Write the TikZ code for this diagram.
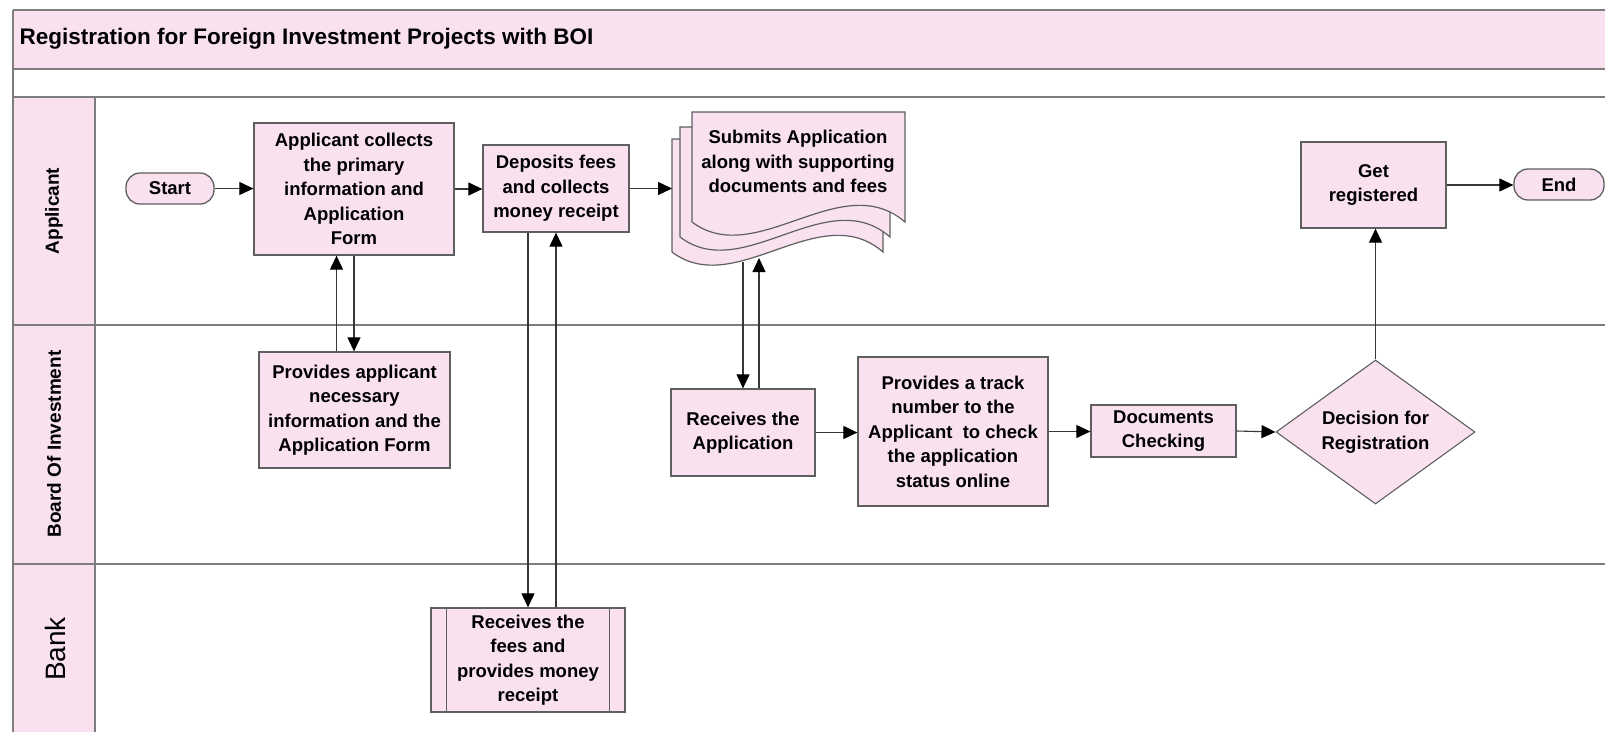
\documentclass[tikz,border=0pt]{standalone}
\usepackage{fontspec}
\setmainfont{Liberation Sans}
\usetikzlibrary{shapes.geometric,arrows.meta,calc}
\definecolor{pinkfill}{RGB}{249,225,240}
\definecolor{framegray}{RGB}{125,125,125}
\definecolor{boxgray}{RGB}{95,95,95}
\definecolor{arrowgray}{RGB}{55,55,55}
\newcommand\bxfont{\fontsize{18.5}{24.5}\selectfont\bfseries}
\begin{document}
\begin{tikzpicture}[x=1pt,y=-1pt,
  frameline/.style={draw=framegray,line width=1.8pt},
  box/.style={draw=boxgray,line width=1.3pt,fill=pinkfill,rectangle,align=center,inner sep=1pt,font=\bxfont,text=black},
  term/.style={box,rounded corners=14pt},
  decision/.style={draw=boxgray,line width=1.1pt,fill=pinkfill,diamond,shape aspect=1.38,align=center,inner sep=0pt,font=\bxfont},
  docshape/.style={draw=boxgray,line width=1.2pt,fill=pinkfill},
  lanelabel/.style={rotate=90,font=\fontsize{19}{22}\selectfont\bfseries},
  arr/.style={draw=arrowgray,line width=1.1pt,-{Triangle[length=14pt,width=13pt,color=black]}}]
\useasboundingbox (0,0) rectangle (1605,731);
\clip (0,0) rectangle (1605,731);
% backgrounds
\fill[pinkfill] (13,10) rectangle (1615,69);
\fill[pinkfill] (13,97) rectangle (95,740);
% frame and lane lines
\draw[frameline] (13,10) -- (1615,10);
\draw[frameline] (13,69) -- (1615,69);
\draw[frameline] (13,97) -- (1615,97);
\draw[frameline] (13,325) -- (1615,325);
\draw[frameline] (13,564) -- (1615,564);
\draw[frameline] (13,10) -- (13,740);
\draw[frameline] (95,97) -- (95,740);
% title and lane labels
\node[anchor=west,font=\fontsize{22.5}{26}\selectfont\bfseries] (title) at (16,39) {Registration for Foreign Investment Projects with BOI};
\node[lanelabel] (laneA) at (54,211) {Applicant};
\node[lanelabel] (laneB) at (54,444) {Board Of Investment};
\node[rotate=90,font=\fontsize{28}{30}\selectfont] (laneC) at (55,649) {Bank};
% document stack
\foreach \x/\y/\w/\b in {672/139/211/252, 680/127/210/237, 692/112/213/222}{
  \path[docshape] (\x,\y) -- (\x+\w,\y) -- (\x+\w,\b)
     .. controls (\x+0.7*\w,\b-55) and (\x+0.3*\w,\b+48) .. (\x,\b) -- cycle;
}
\node[font=\bxfont,align=center,inner sep=1pt] (S) at (798,161.5) {Submits Application\\along with supporting\\documents and fees};
\coordinate (docL) at (672,189);
\coordinate (docB1) at (743,262);
\coordinate (docB2) at (759,258);
% nodes
\node[term,minimum width=88pt,minimum height=31pt] (start) at (170,188.5) {Start};
\node[box,minimum width=200pt,minimum height=132pt] (A) at (354,189) {Applicant collects\\the primary\\information and\\Application\\Form};
\node[box,minimum width=146pt,minimum height=87pt] (D) at (556,188.5) {Deposits fees\\and collects\\money receipt};
\node[box,minimum width=145pt,minimum height=86pt] (G) at (1373.5,185) {Get\\registered};
\node[term,minimum width=90pt,minimum height=31pt] (E) at (1559,184.5) {End};
\node[box,minimum width=191pt,minimum height=116pt] (P) at (354.5,410) {Provides applicant\\necessary\\information and the\\Application Form};
\node[box,minimum width=144pt,minimum height=87pt] (R) at (743,432.5) {Receives the\\Application};
\node[box,minimum width=190pt,minimum height=149pt] (T) at (953,431.5) {Provides a track\\number to the\\Applicant\ \ to check\\the application\\status online};
\node[box,minimum width=145pt,minimum height=52pt] (C) at (1163.5,431) {Documents\\Checking};
\node[decision,minimum width=199pt,minimum height=144pt] (Dec) at (1375.5,432) {Decision for\\Registration};
\node[box,minimum width=194pt,minimum height=104pt] (B) at (528,660) {Receives the\\fees and\\provides money\\receipt};
\draw[draw=boxgray,line width=1.2pt] ([xshift=16pt]B.north west) -- ([xshift=16pt]B.south west);
\draw[draw=boxgray,line width=1.2pt] ([xshift=-16pt]B.north east) -- ([xshift=-16pt]B.south east);
% connectors
\draw[arr] (start.east) -- (start.east -| A.west);
\draw[arr] (A.east) -- (A.east -| D.west);
\draw[arr] (D.east) -- (D.east -| docL);
\draw[arr] (A.south) -- (A.south |- P.north);
\draw[arr] ([xshift=-18pt]P.north) -- ([xshift=-18pt]P.north |- A.south);
\draw[arr] (D.south -| B.north) -- (B.north);
\draw[arr] (B.north -| D.south) -- (D.south);
\draw[arr] (docB1) -- (docB1 |- R.north);
\draw[arr] (R.north -| docB2) -- (docB2);
\draw[arr] (R.east) -- (R.east -| T.west);
\draw[arr] (T.east) -- (T.east -| C.west);
\draw[arr] (C.east) -- (Dec.west);
\draw[arr] (Dec.north) -- (Dec.north |- G.south);
\draw[arr] (G.east) -- (G.east -| E.west);
\end{tikzpicture}
\end{document}
